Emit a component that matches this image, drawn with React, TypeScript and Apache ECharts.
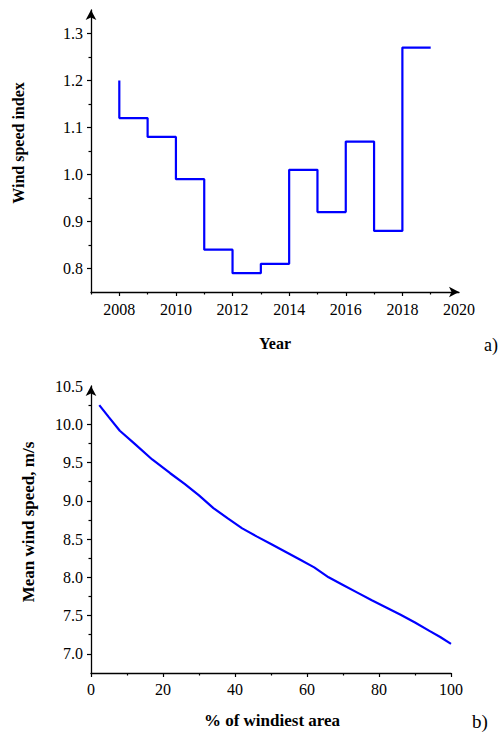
import React, { useEffect, useRef } from "react";
import * as echarts from "echarts";

// ---- Data (panel a) ----
const years = [2008, 2009, 2010, 2011, 2012, 2013, 2014, 2015, 2016, 2017, 2018, 2019];
const windIndex = [1.2, 1.12, 1.08, 0.99, 0.84, 0.79, 0.81, 1.01, 0.92, 1.07, 0.88, 1.27];
const topYMajor = [0.8, 0.9, 1.0, 1.1, 1.2, 1.3];
const topYMinor = [0.85, 0.95, 1.05, 1.15, 1.25];
const topXMajor = [2008, 2010, 2012, 2014, 2016, 2018, 2020];
const topXMinor = [2007, 2009, 2011, 2013, 2015, 2017, 2019];

// ---- Data (panel b) ----
const pctArea = [2.3, 5, 8, 12, 17, 22, 26, 30, 34, 38, 42, 46, 50, 54, 58, 62, 66, 70, 74, 78, 82, 86, 90, 94, 97, 100];
const meanSpeed = [10.25, 10.09, 9.915, 9.75, 9.54, 9.36, 9.22, 9.07, 8.905, 8.77, 8.64, 8.535, 8.436, 8.335, 8.233, 8.13, 8.0, 7.9, 7.8, 7.7, 7.607, 7.51, 7.41, 7.3, 7.22, 7.13];
const botXMajor = [0, 20, 40, 60, 80, 100];
const botYMajor = [7.0, 7.5, 8.0, 8.5, 9.0, 9.5, 10.0, 10.5];
const botYMinor = [7.25, 7.75, 8.25, 8.75, 9.25, 9.75, 10.25];

const FONT = "Liberation Serif";
const BLACK = "#000";

export default function App() {
  const ref = useRef<HTMLDivElement>(null);
  useEffect(() => {
    document.body.style.margin = "0";
    const chart = echarts.init(ref.current!, null, { renderer: "svg" });
    const axisLine = (arrow: boolean) => ({
      show: true,
      lineStyle: { color: BLACK, width: 1.3 },
      symbol: arrow ? ["none", "arrow"] : ["none", "none"],
      symbolSize: [8, 10],
    });
    const label = (vals: number[], dec: number, margin: number) => ({
      show: true,
      customValues: vals,
      formatter: (v: number) => v.toFixed(dec),
      color: BLACK,
      fontFamily: FONT,
      fontSize: 16,
      margin,
    });
    const option: any = {
      animation: false,
      textStyle: { fontFamily: FONT, color: BLACK },
      grid: [
        { left: 91, top: 10, width: 368, height: 282 },
        { left: 91, top: 386, width: 360, height: 287 },
      ],
      xAxis: [
        {
          type: "value", gridIndex: 0, min: 2007, max: 2020,
          axisLine: axisLine(true),
          axisTick: { show: true, customValues: topXMajor.slice(0, 6), length: 4, lineStyle: { color: BLACK, width: 1.2 } },
          axisLabel: label(topXMajor, 0, 9),
          splitLine: { show: false },
        },
        {
          type: "value", gridIndex: 0, min: 2007, max: 2020,
          axisLine: { show: false },
          axisTick: { show: true, customValues: topXMinor, length: 2.5, lineStyle: { color: BLACK, width: 1.2 } },
          axisLabel: { show: false },
          splitLine: { show: false },
          position: "bottom",
        },
        {
          type: "value", gridIndex: 1, min: 0, max: 100, interval: 20,
          axisLine: axisLine(false),
          axisTick: { show: true, length: 4, lineStyle: { color: BLACK, width: 1.2 } },
          minorTick: { show: true, splitNumber: 2, length: 2.5, lineStyle: { color: BLACK, width: 1.2 } },
          axisLabel: label(botXMajor, 0, 8),
          splitLine: { show: false },
        },
      ],
      yAxis: [
        {
          type: "value", gridIndex: 0, min: 0.75, max: 1.35,
          axisLine: axisLine(true),
          axisTick: { show: true, customValues: topYMajor, length: 4, lineStyle: { color: BLACK, width: 1.2 } },
          axisLabel: label(topYMajor, 1, 8),
          splitLine: { show: false },
        },
        {
          type: "value", gridIndex: 0, min: 0.75, max: 1.35, position: "left",
          axisLine: { show: false },
          axisTick: { show: true, customValues: topYMinor, length: 2.5, lineStyle: { color: BLACK, width: 1.2 } },
          axisLabel: { show: false },
          splitLine: { show: false },
        },
        {
          type: "value", gridIndex: 1, min: 6.75, max: 10.5,
          axisLine: axisLine(true),
          axisTick: { show: true, customValues: botYMajor.slice(0, 7), length: 4, lineStyle: { color: BLACK, width: 1.2 } },
          axisLabel: label(botYMajor, 1, 8),
          splitLine: { show: false },
        },
        {
          type: "value", gridIndex: 1, min: 6.75, max: 10.5, position: "left",
          axisLine: { show: false },
          axisTick: { show: true, customValues: botYMinor, length: 2.5, lineStyle: { color: BLACK, width: 1.2 } },
          axisLabel: { show: false },
          splitLine: { show: false },
        },
      ],
      series: [
        {
          type: "line", xAxisIndex: 0, yAxisIndex: 0, step: "start",
          data: years.map((y, i) => [y, windIndex[i]]),
          showSymbol: false, symbol: "none",
          lineStyle: { color: "#0000ff", width: 2.2 },
        },
        {
          type: "line", xAxisIndex: 2, yAxisIndex: 2,
          data: pctArea.map((p, i) => [p, meanSpeed[i]]),
          showSymbol: false, symbol: "none",
          lineStyle: { color: "#0000ff", width: 2.2 },
        },
      ],
      graphic: [
        { type: "text", x: 18, y: 143, rotation: Math.PI / 2, style: { text: "Wind speed index", fontFamily: FONT, fontWeight: "bold", fontSize: 16, fill: BLACK, textAlign: "center", textVerticalAlign: "middle" } },
        { type: "text", x: 275, y: 343, style: { text: "Year", fontFamily: FONT, fontWeight: "bold", fontSize: 16, fill: BLACK, textAlign: "center", textVerticalAlign: "middle" } },
        { type: "text", x: 484, y: 345, style: { text: "a)", fontFamily: FONT, fontSize: 18, fill: BLACK, textAlign: "left", textVerticalAlign: "middle" } },
        { type: "text", x: 28, y: 522, rotation: Math.PI / 2, style: { text: "Mean wind speed, m/s", fontFamily: FONT, fontWeight: "bold", fontSize: 17, fill: BLACK, textAlign: "center", textVerticalAlign: "middle" } },
        { type: "text", x: 272, y: 720, style: { text: "% of windiest area", fontFamily: FONT, fontWeight: "bold", fontSize: 17, fill: BLACK, textAlign: "center", textVerticalAlign: "middle" } },
        { type: "text", x: 472, y: 721, style: { text: "b)", fontFamily: FONT, fontSize: 19, fill: BLACK, textAlign: "left", textVerticalAlign: "middle" } },
      ],
    };
    chart.setOption(option);
    return () => chart.dispose();
  }, []);
  return <div ref={ref} style={{ width: 502, height: 733 }} />;
}
